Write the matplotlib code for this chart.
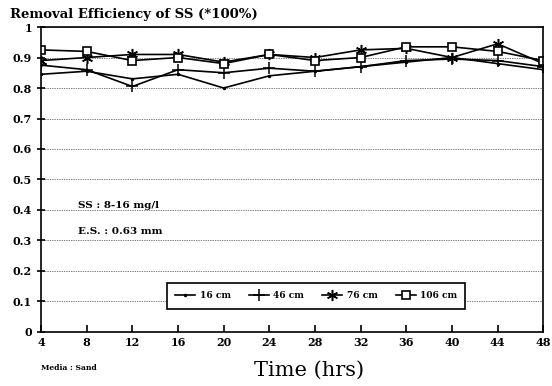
import numpy as np
import matplotlib
matplotlib.use("Agg")
import matplotlib.pyplot as plt

hours = [4, 8, 12, 16, 20, 24, 28, 32, 36, 40, 44, 48]
eff_16 = [0.845, 0.855, 0.83, 0.845, 0.80, 0.84, 0.855, 0.87, 0.885, 0.90, 0.88, 0.86]
eff_46 = [0.875, 0.86, 0.805, 0.86, 0.85, 0.865, 0.855, 0.87, 0.89, 0.895, 0.89, 0.87]
eff_76 = [0.89, 0.90, 0.91, 0.91, 0.885, 0.91, 0.90, 0.925, 0.93, 0.90, 0.945, 0.88]
eff_106 = [0.925, 0.92, 0.89, 0.90, 0.88, 0.91, 0.89, 0.90, 0.935, 0.935, 0.92, 0.89]
labels = ["16 cm", "46 cm", "76 cm", "106 cm"]

serif = "DejaVu Serif"

fig = plt.figure(figsize=(5.52, 3.86), dpi=100)
ax = fig.add_axes([0.0743, 0.140, 0.91, 0.790])

ax.plot(hours, eff_16, color="black", lw=1.2, marker=".", ms=3, label=labels[0])
ax.plot(hours, eff_46, color="black", lw=1.2, marker="+", ms=8, mew=1.1, label=labels[1])
ax.plot(hours, eff_76, color="black", lw=1.2, marker=(6, 2, 0), ms=8, mew=1.1, label=labels[2])
ax.plot(hours, eff_106, color="black", lw=1.2, marker="s", ms=5.5, mfc="white", mew=1.2, label=labels[3])

ax.set_xlim(4, 48)
ax.set_ylim(0, 1)
ax.set_xticks(np.arange(4, 49, 4))
ax.set_yticks(np.arange(0, 1.01, 0.1))
ax.set_yticklabels(["0", "0.1", "0.2", "0.3", "0.4", "0.5", "0.6", "0.7", "0.8", "0.9", "1"])
for t in ax.get_xticklabels() + ax.get_yticklabels():
    t.set_fontfamily(serif)
    t.set_fontweight("bold")
    t.set_fontsize(8)
ax.tick_params(axis="x", direction="in", length=5, width=1.2)
ax.tick_params(axis="y", direction="inout", length=6, width=1.2)
ax.yaxis.grid(True, linestyle=(0, (1, 1.5)), color="black", lw=0.5)
for s in ax.spines.values():
    s.set_linewidth(1.2)

ax.text(7.2, 0.416, "SS : 8-16 mg/l", fontfamily=serif, fontweight="bold", fontsize=7.5, va="center")
ax.text(7.2, 0.33, "E.S. : 0.63 mm", fontfamily=serif, fontweight="bold", fontsize=7.5, va="center")

leg = ax.legend(loc="lower left", bbox_to_anchor=(0.242, 0.062, 0.612, 0.098), mode="expand",
                ncol=4, fancybox=False, edgecolor="black", framealpha=1,
                prop={"family": serif, "weight": "bold", "size": 6.5},
                handlelength=2.2, borderpad=0.9, columnspacing=1.0, handletextpad=0.5)
leg.get_frame().set_linewidth(1.2)

fig.text(0.018, 0.963, "Removal Efficiency of SS (*100%)", fontfamily=serif,
         fontweight="bold", fontsize=9.5, va="center")
fig.text(0.56, 0.04, "Time (hrs)", fontfamily=serif, fontsize=15, ha="center", va="center")
fig.text(0.075, 0.047, "Media : Sand", fontfamily=serif, fontweight="bold", fontsize=5.5, va="center")

fig.savefig("out.png", dpi=100)
